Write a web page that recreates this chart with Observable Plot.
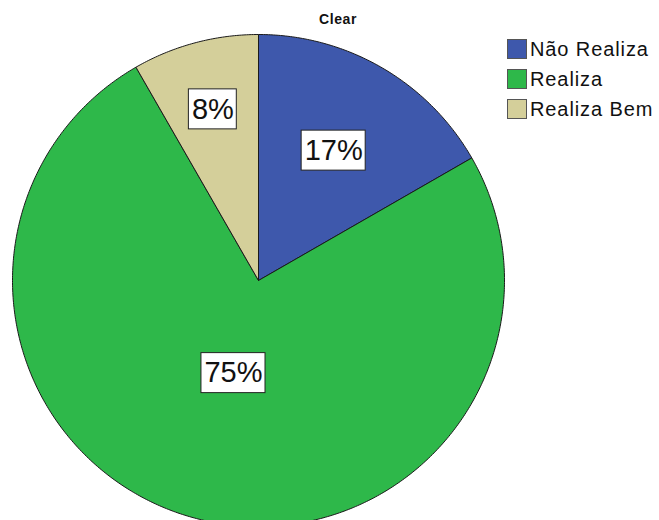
<!DOCTYPE html>
<html>
<head>
<meta charset="utf-8">
<script src="https://cdn.jsdelivr.net/npm/d3@7"></script>
<script src="https://cdn.jsdelivr.net/npm/@observablehq/plot@0.6"></script>
<style>
  html, body { margin: 0; padding: 0; background: #fff; }
  #wrap { position: relative; width: 659px; height: 520px; overflow: hidden; font-family: "Liberation Sans", Arial, sans-serif; }
  #title { position: absolute; left: 0; width: 676px; top: 11px; text-align: center; font-weight: bold; font-size: 14px; letter-spacing: 0.6px; color: #111; }
  #legend { position: absolute; left: 507px; top: 34px; }
  .row { display: flex; align-items: center; height: 30px; }
  .sw { width: 18px; height: 18px; border: 1px solid #555; margin-right: 3px; }
  .lab { font-size: 20px; letter-spacing: 0.9px; color: #111; }
</style>
</head>
<body>
<div id="wrap">
  <div id="chart"></div>
  <div id="title">Clear</div>
  <div id="legend"></div>
</div>
<script>
const title = "Clear";
const categories = ["Não Realiza", "Realiza", "Realiza Bem"];
const percents = [16.7, 75.0, 8.3];
const colors = ["#3e58ac", "#2eb84a", "#d4cf9a"];

const R = 246;
const pie = d3.pie().sort(null).value(d => d)(percents);

const slices = pie.map((p, i) => {
  const pts = [{x: 0, y: 0}];
  const n = Math.max(8, Math.ceil((p.endAngle - p.startAngle) / 0.01));
  for (let k = 0; k <= n; k++) {
    const a = p.startAngle + (p.endAngle - p.startAngle) * k / n;
    pts.push({x: R * Math.sin(a), y: R * Math.cos(a)});
  }
  pts.push({x: 0, y: 0});
  return pts;
});

// label placement along slice mid-angle
const ctx = document.createElement("canvas").getContext("2d");
const fs = 29;
ctx.font = `${fs}px "Liberation Sans", Arial, sans-serif`;
const labelData = pie.map((p, i) => {
  const mid = (p.startAngle + p.endAngle) / 2;
  const frac = percents[i] > 50 ? 0.39 : (percents[i] < 10 ? 0.72 : 0.61);
  const r = R * frac;
  const text = Math.round(percents[i]) + "%";
  const w = ctx.measureText(text).width + 6;
  const h = 40;
  const x = r * Math.sin(mid), y = r * Math.cos(mid);
  return {text, x, y, x1: x - w / 2, x2: x + w / 2, y1: y - h / 2, y2: y + h / 2};
});

const plot = Plot.plot({
  width: 659,
  height: 520,
  margin: 0,
  x: {domain: [-258, 401], range: [0, 659], axis: null},
  y: {domain: [-240, 280], range: [520, 0], axis: null},
  style: {fontFamily: '"Liberation Sans", Arial, sans-serif'},
  marks: [
    ...slices.map((s, i) => Plot.line(s, {x: "x", y: "y", fill: colors[i], stroke: "#1a1a1a", strokeWidth: 1, strokeLinejoin: "miter", clip: true})),
    Plot.rect(labelData, {x1: "x1", x2: "x2", y1: "y1", y2: "y2", fill: "white", stroke: "#222", strokeWidth: 1}),
    Plot.text(labelData, {x: "x", y: "y", text: "text", fontSize: fs, fill: "#111", textAnchor: "middle", lineAnchor: "middle"})
  ]
});
document.getElementById("chart").appendChild(plot);

document.getElementById("title").textContent = title;
const legend = document.getElementById("legend");
categories.forEach((c, i) => {
  const row = document.createElement("div");
  row.className = "row";
  const sw = document.createElement("div");
  sw.className = "sw";
  sw.style.background = colors[i];
  const lab = document.createElement("span");
  lab.className = "lab";
  lab.textContent = c;
  row.appendChild(sw);
  row.appendChild(lab);
  legend.appendChild(row);
});
</script>
</body>
</html>
